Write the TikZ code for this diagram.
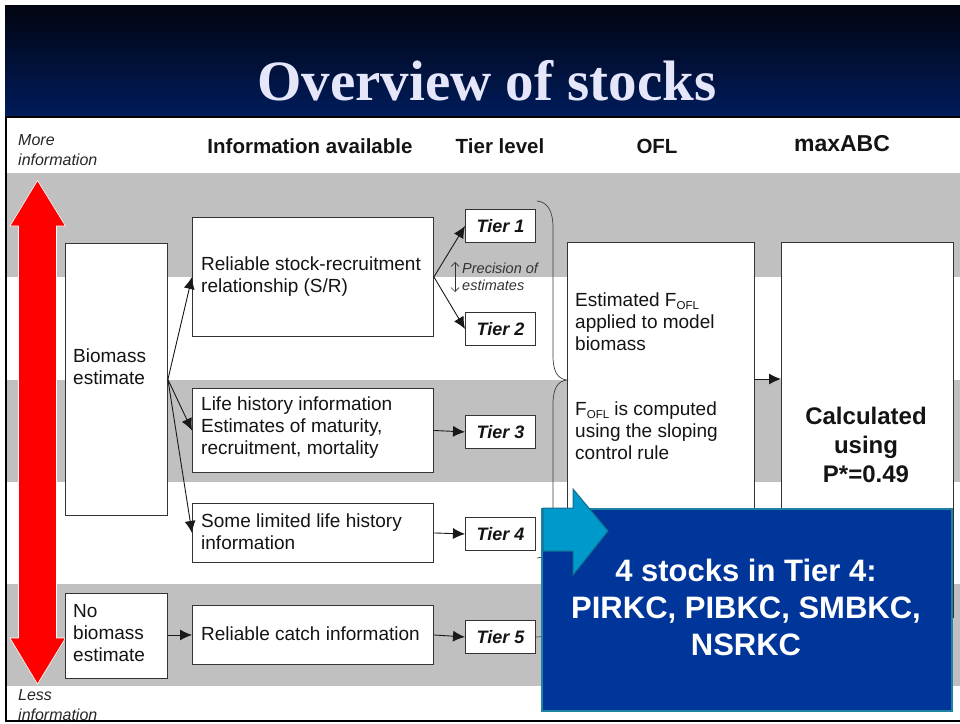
\documentclass[tikz,border=0pt]{standalone}
\usepackage{fontspec}
\setmainfont{Liberation Sans}
\newfontfamily\titlefont{Liberation Serif}
\usetikzlibrary{arrows.meta,calc}
\definecolor{titletop}{RGB}{2,4,16}
\definecolor{titlebot}{RGB}{0,28,92}
\definecolor{titletext}{RGB}{230,230,250}
\definecolor{band}{RGB}{192,192,192}
\definecolor{calloutfill}{RGB}{0,53,154}
\definecolor{calloutedge}{RGB}{30,130,160}
\definecolor{blockarrow}{RGB}{0,153,204}
\definecolor{blockedge}{RGB}{20,110,140}
\definecolor{ink}{RGB}{20,20,20}
\newcommand{\fs}[2]{\fontsize{#1}{#2}\selectfont}
\newcommand{\fofl}{F\raisebox{-0.12em}{\fs{11.5}{12}OFL}}
\begin{document}
\begin{tikzpicture}[x=1pt,y=-1pt,
  box/.style={draw=black!80, fill=white, line width=0.9pt, inner sep=0pt, anchor=north west},
  tierbox/.style={box, font=\bfseries\itshape\fs{18}{20}, text=ink},
  tiertxt/.style={font=\bfseries\itshape\fs{18}{20}, text=ink, inner sep=0pt},
  txt/.style={font=\fs{19}{22}, text=ink, align=left, inner sep=0pt, anchor=west},
  head/.style={font=\bfseries\fs{20.5}{24}, text=ink, inner sep=0pt},
  side/.style={font=\itshape\fs{16}{20}, text=black!85, align=left, inner sep=0pt, anchor=north west},
  arr/.style={-{Latex[length=12pt,width=11pt]}, line width=0.9pt, draw=black!90},
  thinline/.style={line width=0.7pt, draw=black!75}]
\useasboundingbox (0,0) rectangle (960,723);
\fill[white] (0,0) rectangle (960,723);
% title band
\shade[top color=titletop, bottom color=titlebot] (5,5) rectangle (960,117);
\node[font=\titlefont\bfseries\fs{57}{60}, text=titletext, anchor=base, inner sep=0pt] (title) at (487,100) {Overview of stocks};
% panel
\fill[white] (6,117) rectangle (960,721);
\fill[band] (7,173) rectangle (960,277);
\fill[band] (7,380) rectangle (960,482);
\fill[band] (7,584) rectangle (960,686);
\draw[black, line width=2pt] (960,117) -- (6,117) -- (6,721) -- (960,721);
% headers
\node[side] (more) at (18,134) {More\\information};
\node[head] (h1) at (310,146) {Information available};
\node[head] (h2) at (500,146) {Tier level};
\node[head] (h3) at (657,146) {OFL};
\node[head, font=\bfseries\fs{23}{26}] (h4) at (842,144) {maxABC};
\node[side] (less) at (18,689) {Less\\information};
% red arrow
\fill[red, draw=white, line width=0.6pt] (37.5,180.5) -- (65.5,226) -- (56.5,226) -- (56.5,638) -- (65.5,638) -- (37.5,684) -- (10,638) -- (18.5,638) -- (18.5,226) -- (10,226) -- cycle;
% column 1
\node[box, minimum width=102pt, minimum height=272pt] (bio) at (65,243) {};
\node[txt] (bioT) at (73,367) {Biomass\\estimate};
\node[box, minimum width=102pt, minimum height=85pt] (nobio) at (65,593) {};
\node[txt] (nobioT) at (73,633) {No\\biomass\\estimate};
% column 2
\node[box, minimum width=241pt, minimum height=119pt] (sr) at (192,217) {};
\node[txt] (srT) at (201,277) {Reliable stock-recruitment\\relationship (S/R)};
\node[box, minimum width=241pt, minimum height=84pt] (life) at (192,388) {};
\node[txt] (lifeT) at (201,428) {Life history information\\Estimates of maturity,\\recruitment, mortality};
\node[box, minimum width=241pt, minimum height=59pt] (lim) at (192,503) {};
\node[txt] (limT) at (201,532) {Some limited life history\\information};
\node[box, minimum width=241pt, minimum height=59pt] (catch) at (192,605) {};
\node[txt] (catchT) at (201,634) {Reliable catch information};
% tiers
\node[tierbox, minimum width=70pt, minimum height=33pt] (t1) at (465,209) {};
\node[tiertxt] (t1T) at (t1.center) {Tier 1};
\node[tierbox, minimum width=70pt, minimum height=33pt] (t2) at (465,312) {};
\node[tiertxt] (t2T) at (t2.center) {Tier 2};
\node[tierbox, minimum width=70pt, minimum height=33pt] (t3) at (465,415) {};
\node[tiertxt] (t3T) at (t3.center) {Tier 3};
\node[tierbox, minimum width=70pt, minimum height=33pt] (t4) at (465,517) {};
\node[tiertxt] (t4T) at (t4.center) {Tier 4};
\node[tierbox, minimum width=70pt, minimum height=33pt] (t5) at (465,620) {};
\node[tiertxt] (t5T) at (t5.center) {Tier 5};
% precision
\coordinate (pa) at (455,262);
\coordinate (pb) at (455,292);
\draw[{Straight Barb[length=4pt,width=8pt]}-{Straight Barb[length=4pt,width=8pt]}, line width=0.7pt, black!80] (pa) -- (pb);
\node[font=\itshape\fs{14.5}{17.5}, text=black!80, align=left, inner sep=0pt, anchor=west] (prec) at (462,277) {Precision of\\estimates};
% OFL and maxABC boxes
\node[box, minimum width=187pt, minimum height=360pt] (ofl) at (567,242) {};
\node[txt] (oflT1) at (575,322) {Estimated \fofl\\applied to model\\biomass};
\node[txt] (oflT2) at (575,431) {\fofl{} is computed\\using the sloping\\control rule};
\node[box, minimum width=172pt, minimum height=375pt] (maxabc) at (781,242) {};
\node[font=\bfseries\fs{24}{29}, text=ink, align=center, inner sep=0pt] (maxT) at (866,445) {Calculated\\using\\P*=0.49};
% connectors
\draw[arr] (bio.east) -- (sr.west);
\draw[arr] (bio.east) -- (life.west);
\draw[arr] (bio.east) -- (lim.west);
\draw[arr] (nobio.east |- catch.west) -- (catch.west);
\draw[arr] (sr.east) -- (t1.west);
\draw[arr] (sr.east) -- (t2.west);
\draw[arr] (life.east) -- (t3.west);
\draw[arr] (lim.east) -- (t4.west);
\draw[arr] (catch.east) -- (t5.west);
\coordinate (t5end) at (566,636);
\draw[thinline] (t5.east) -- (t5end);
\draw[arr] (ofl.east |- 0,379) -- (maxabc.west |- 0,379);
% brace
\draw[thinline] (537,201) .. controls (547,202) and (553,210) .. (553,228) -- (553,356) .. controls (553,372) and (558,379) .. (567,380) .. controls (558,381) and (553,388) .. (553,404) -- (553,538) .. controls (553,551) and (547,557) .. (537,558);
% callout
\node[draw=calloutedge, line width=1.6pt, fill=calloutfill, minimum width=410pt, minimum height=202pt, inner sep=0pt, anchor=north west] (callout) at (541,508) {};
\fill[blockarrow, draw=blockedge, line width=1pt] (543,508) -- (573,508) -- (573,489) -- (608,531) -- (573,575) -- (573,551) -- (543,551) -- cycle;
\node[font=\bfseries\fs{31}{37}, text=white, align=center, inner sep=0pt] (calloutT) at (746,607) {4 stocks in Tier 4:\\PIRKC, PIBKC, SMBKC,\\NSRKC};
\end{tikzpicture}
\end{document}
